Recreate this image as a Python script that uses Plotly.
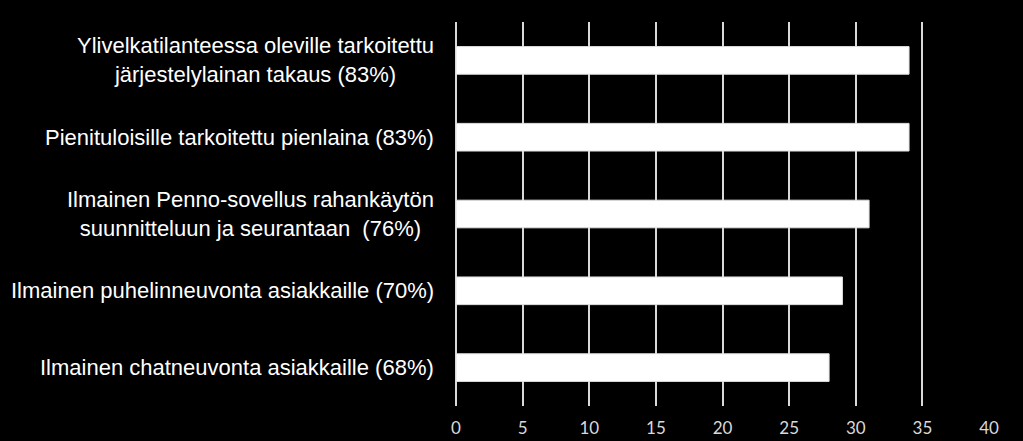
import plotly.graph_objects as go

categories = [
    "Ylivelkatilanteessa oleville tarkoitettu<br>järjestelylainan takaus (83%)",
    "Pienituloisille tarkoitettu pienlaina (83%)",
    "Ilmainen Penno-sovellus rahankäytön<br>suunnitteluun ja seurantaan  (76%)",
    "Ilmainen puhelinneuvonta asiakkaille (70%)",
    "Ilmainen chatneuvonta asiakkaille (68%)",
]
values = [34, 34, 31, 29, 28]
x_ticks = [0, 5, 10, 15, 20, 25, 30, 35, 40]

fig = go.Figure()
fig.add_trace(go.Bar(
    x=values, y=categories, orientation="h",
    marker=dict(color="#ffffff", line=dict(color="#e0e0e0", width=1)),
    width=0.36,
))

for c in categories:
    fig.add_annotation(
        x=0, xref="paper", y=c, yref="y", text=c,
        xanchor="right", yanchor="middle", align="center",
        xshift=-20, showarrow=False,
        font=dict(family="Liberation Sans, Arial", size=22, color="#ffffff"),
    )

fig.update_layout(
    width=1023, height=441,
    paper_bgcolor="#000000", plot_bgcolor="#000000",
    margin=dict(l=456, r=34, t=22, b=35, autoexpand=False),
    showlegend=False,
    xaxis=dict(
        range=[0, 40], tickvals=x_ticks, showgrid=True, automargin=False,
        gridcolor="#d9d9d9", gridwidth=2, zeroline=True, zerolinecolor="#d9d9d9",
        zerolinewidth=2, showline=False, ticks="outside", ticklen=7,
        tickcolor="rgba(0,0,0,0)",
        tickfont=dict(family="Lato, Open Sans", size=17, color="#d9d9d9"),
    ),
    yaxis=dict(
        categoryorder="array", categoryarray=categories[::-1], automargin=False,
        showticklabels=False, showgrid=False, zeroline=False, ticks="",
        range=[-0.5, 4.5],
    ),
    bargap=0.64,
)

fig.write_html(
    "out.html",
    config={"displayModeBar": False},
    post_script="document.body.style.margin='0';document.body.style.background='#000';",
)
